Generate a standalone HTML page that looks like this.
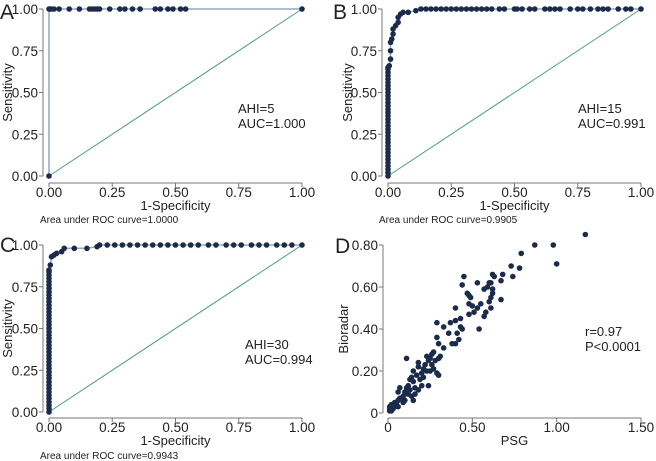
<!DOCTYPE html>
<html><head><meta charset="utf-8">
<style>
body{margin:0;background:#fff;}
svg{display:block;font-family:"Liberation Sans",Arial,sans-serif;}
text{fill:#222;}
</style></head>
<body>
<svg id="fig" width="656" height="461" viewBox="0 0 656 461"></svg>
<script>
// ---------- data ----------
const ticksROC = ["0.00","0.25","0.50","0.75","1.00"];
const ticksROCv = [0,0.25,0.5,0.75,1];
const aFpr = [0,0,0.005,0.01,0.02,0.04,0.08,0.12,0.16,0.17,0.18,0.19,0.2,0.24,0.28,0.3,0.33,0.36,0.42,0.44,0.47,0.49,0.52,0.54,1];
const aTpr = [0,1,1,1,1,1,1,1,1,1,1,1,1,1,1,1,1,1,1,1,1,1,1,1,1];
const bFpr = [0,0,0,0,0,0,0,0,0,0,0,0,0,0,0,0,0,0,0,0,0,0,0,0,0,0,0,0,0,0,0,0,0,0,0.005,0.01,0.01,0.01,0.015,0.02,0.02,0.03,0.04,0.04,0.05,0.06,0.08,0.11,0.13,0.15,0.17,0.19,0.21,0.23,0.25,0.27,0.29,0.31,0.33,0.35,0.37,0.39,0.41,0.44,0.46,0.5,0.51,0.53,0.56,0.58,0.62,0.64,0.66,0.68,0.72,0.75,0.77,0.8,0.83,0.85,0.87,0.91,0.94,0.96,1];
const bTpr = [0,0.02,0.04,0.06,0.08,0.1,0.12,0.14,0.16,0.18,0.2,0.22,0.24,0.26,0.28,0.3,0.32,0.34,0.36,0.38,0.4,0.42,0.44,0.46,0.48,0.5,0.52,0.54,0.56,0.58,0.6,0.62,0.64,0.65,0.66,0.7,0.75,0.8,0.82,0.85,0.88,0.9,0.92,0.95,0.97,0.98,0.98,0.99,1,1,1,1,1,1,1,1,1,1,1,1,1,1,1,1,1,1,1,1,1,1,1,1,1,1,1,1,1,1,1,1,1,1,1,1,1];
const cFpr = [0,0,0,0,0,0,0,0,0,0,0,0,0,0,0,0,0,0,0,0,0,0,0,0,0,0,0,0,0,0,0,0,0,0,0,0,0,0,0,0,0,0,0,0,0.005,0.01,0.02,0.03,0.05,0.06,0.1,0.15,0.19,0.2,0.23,0.26,0.29,0.32,0.35,0.38,0.41,0.44,0.47,0.5,0.53,0.56,0.59,0.63,0.66,0.7,0.73,0.76,0.8,0.83,0.86,0.9,0.93,0.96,1];
const cTpr = [0,0.02,0.04,0.06,0.08,0.1,0.12,0.14,0.16,0.18,0.2,0.22,0.24,0.26,0.28,0.3,0.32,0.34,0.36,0.38,0.4,0.42,0.44,0.46,0.48,0.5,0.52,0.54,0.56,0.58,0.6,0.62,0.64,0.66,0.68,0.7,0.72,0.74,0.76,0.78,0.8,0.82,0.84,0.85,0.88,0.93,0.94,0.95,0.96,0.98,0.98,0.98,0.99,1,1,1,1,1,1,1,1,1,1,1,1,1,1,1,1,1,1,1,1,1,1,1,1,1,1];
const dPsg = [1.17,0.98,1.0,0.87,0.79,0.78,0.73,0.74,0.68,0.67,0.67,0.62,0.63,0.61,0.60,0.59,0.57,0.62,0.62,0.61,0.60,0.61,0.58,0.57,0.55,0.53,0.49,0.48,0.47,0.48,0.50,0.51,0.48,0.53,0.54,0.44,0.45,0.40,0.43,0.40,0.43,0.44,0.41,0.42,0.40,0.38,0.37,0.36,0.33,0.29,0.29,0.30,0.33,0.30,0.31,0.27,0.26,0.28,0.25,0.24,0.23,0.22,0.21,0.23,0.20,0.25,0.27,0.29,0.30,0.24,0.18,0.18,0.17,0.15,0.14,0.15,0.13,0.12,0.11,0.13,0.12,0.14,0.15,0.18,0.16,0.10,0.09,0.08,0.07,0.06,0.07,0.06,0.05,0.05,0.04,0.03,0.02,0.03,0.02,0.01,0.01,0.02,0.03,0.04,0.01,0.02,0.10,0.11,0.19,0.16,0.21,0.26,0.20,0.09,0.06];
const dBio = [0.85,0.80,0.71,0.80,0.76,0.69,0.70,0.65,0.66,0.63,0.54,0.66,0.65,0.62,0.62,0.60,0.59,0.59,0.57,0.55,0.53,0.50,0.48,0.46,0.52,0.62,0.55,0.56,0.57,0.52,0.51,0.48,0.47,0.50,0.40,0.61,0.65,0.50,0.45,0.44,0.41,0.40,0.38,0.35,0.33,0.33,0.43,0.38,0.41,0.43,0.36,0.33,0.31,0.26,0.27,0.29,0.28,0.25,0.26,0.25,0.27,0.23,0.21,0.20,0.19,0.20,0.21,0.19,0.18,0.13,0.24,0.22,0.18,0.20,0.17,0.15,0.16,0.13,0.26,0.11,0.09,0.08,0.06,0.11,0.12,0.10,0.08,0.07,0.12,0.10,0.07,0.06,0.05,0.04,0.03,0.03,0.02,0.04,0.03,0.02,0.03,0.01,0.02,0.05,0.01,0.04,0.06,0.12,0.16,0.09,0.17,0.23,0.13,0.05,0.03];
const dXticks = ["0","0.50","1.00","1.50"], dXv = [0,0.5,1,1.5];
const dYticks = ["0","0.20","0.40","0.60","0.80"], dYv = [0,0.2,0.4,0.6,0.8];

const NS="http://www.w3.org/2000/svg", svg=document.getElementById('fig');
function mk(tag,attrs,parent,txt){const e=document.createElementNS(NS,tag);for(const k in attrs)e.setAttribute(k,attrs[k]);if(txt!==undefined)e.textContent=txt;(parent||svg).appendChild(e);return e;}

function axes(g,p,xt,xv,yt,yv,xtitle,ytitle){
  const sx=v=>p.x0+(v-p.xmin)/(p.xmax-p.xmin)*(p.x1-p.x0);
  const sy=v=>p.y0-(v-p.ymin)/(p.ymax-p.ymin)*(p.y0-p.y1);
  const ya=mk('line',{x1:p.ax,y1:sy(yv[yv.length-1]),x2:p.ax,y2:sy(yv[0]),stroke:'#777','stroke-width':1},g);
  
  const xa=mk('line',{x1:sx(xv[0]),y1:p.ay,x2:sx(xv[xv.length-1]),y2:p.ay,stroke:'#777','stroke-width':1},g);
  
  yv.forEach((v,i)=>{
    mk('line',{x1:p.ax-4,y1:sy(v),x2:p.ax,y2:sy(v),stroke:'#777'},g);
    const t=mk('text',{x:p.ax-5,y:sy(v)+5,'text-anchor':'end','font-size':13.5},g,yt[i]);
    
  });
  xv.forEach((v,i)=>{
    mk('line',{x1:sx(v),y1:p.ay,x2:sx(v),y2:p.ay+4,stroke:'#777'},g);
    const t=mk('text',{x:sx(v),y:p.ay+14,'text-anchor':'middle','font-size':13.5},g,xt[i]);
    
  });
  const xtt=mk('text',{x:(sx(xv[0])+sx(xv[xv.length-1]))/2,y:p.ay+27,'text-anchor':'middle','font-size':13},g,xtitle);
  
  const cy=(sy(yv[0])+sy(yv[yv.length-1]))/2;
  const ytt=mk('text',{x:p.ytx,y:cy,'text-anchor':'middle','font-size':13,transform:`rotate(-90 ${p.ytx} ${cy})`},g,ytitle);
  
  return [sx,sy];
}

function roc(name,p,fpr,tpr,letter,lab1,lab2,area){
  const g=mk('g',{});
  
  const [sx,sy]=axes(g,p,ticksROC,ticksROCv,ticksROC,ticksROCv,'1-Specificity','Sensitivity');
  const d=mk('line',{x1:sx(0),y1:sy(0),x2:sx(1),y2:sy(1),stroke:'#4e9a88','stroke-width':1},g);
  
  const pts=fpr.map((f,i)=>sx(f).toFixed(1)+','+sy(tpr[i]).toFixed(1)).join(' ');
  const pl=mk('polyline',{points:pts,fill:'none',stroke:'#93a7c2','stroke-width':1.5},g);
  
  fpr.forEach((f,i)=>{
    const c=mk('circle',{cx:sx(f),cy:sy(tpr[i]),r:2.8,fill:'#1c2b4b'},g);
    
  });
  const L=mk('text',{x:p.lx,y:p.ly,'font-size':21},g,letter);
  
  const t1=mk('text',{x:p.tx,y:p.ty,'font-size':13},g,lab1);
  
  const t2=mk('text',{x:p.tx,y:p.ty+15,'font-size':13},g,lab2);
  
  const ar=mk('text',{x:p.arx,y:p.ary,'font-size':10},g,area);
  
}

roc('panel-a',{x0:49,x1:302,y0:176,y1:9,xmin:0,xmax:1,ymin:0,ymax:1,ax:43,ay:183,ytx:12,lx:0,ly:19,tx:238,ty:113,arx:40,ary:223},aFpr,aTpr,'A','AHI=5','AUC=1.000','Area under ROC curve=1.0000');
roc('panel-b',{x0:388,x1:641,y0:176,y1:9,xmin:0,xmax:1,ymin:0,ymax:1,ax:382,ay:183,ytx:352,lx:333,ly:19,tx:578,ty:113,arx:379,ary:223},bFpr,bTpr,'B','AHI=15','AUC=0.991','Area under ROC curve=0.9905');
roc('panel-c',{x0:49,x1:302,y0:412,y1:245,xmin:0,xmax:1,ymin:0,ymax:1,ax:43,ay:418,ytx:12,lx:0,ly:252,tx:245,ty:349,arx:40,ary:459},cFpr,cTpr,'C','AHI=30','AUC=0.994','Area under ROC curve=0.9943');

// panel D scatter
(function(){
  const g=mk('g',{});
  
  const p={x0:388,x1:641,y0:413,y1:245,xmin:0,xmax:1.5,ymin:0,ymax:0.8,ax:383,ay:418,ytx:348};
  const [sx,sy]=axes(g,p,dXticks,dXv,dYticks,dYv,'PSG','Bioradar');
  dPsg.forEach((v,i)=>{
    const c=mk('circle',{cx:sx(v),cy:sy(dBio[i]),r:2.8,fill:'#1c2b4b'},g);
    
  });
  const L=mk('text',{x:335,y:253,'font-size':21},g,'D');
  
  const t1=mk('text',{x:585,y:336,'font-size':13},g,'r=0.97');
  
  const t2=mk('text',{x:585,y:351,'font-size':13},g,'P<0.0001');
  
})();
</script>
</body></html>
